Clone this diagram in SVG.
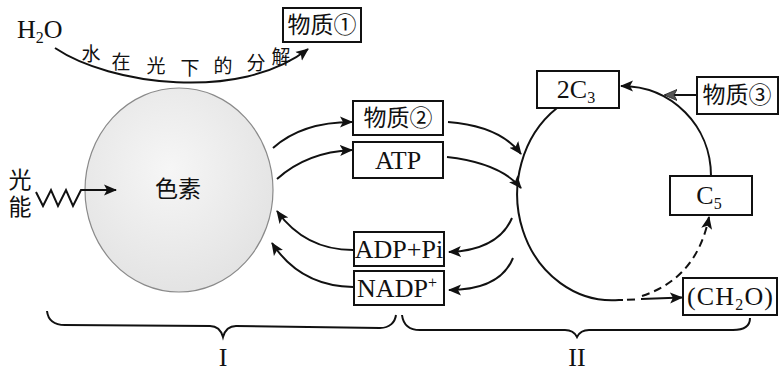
<svg xmlns="http://www.w3.org/2000/svg" width="779" height="374" viewBox="0 0 779 374">
  <style>
    .box { fill: #ffffff; stroke: #111111; stroke-width: 2; }
    .ln { fill: none; stroke: #111111; stroke-width: 2; }
    .lbl { font-family: "Liberation Serif", "Times New Roman", serif; font-size: 26px; fill: #111111; text-anchor: middle; }
    .cn { font-family: "Noto Sans CJK SC", "Noto Sans", sans-serif; font-size: 23px; fill: #111111; text-anchor: middle; }
    .arc { font-family: "Noto Sans CJK SC", "Noto Sans", sans-serif; font-size: 19px; fill: #111111; text-anchor: middle; }
    .sub { font-size: 16px; }
  </style>
  <defs>
    <marker id="head" markerUnits="userSpaceOnUse" markerWidth="14" markerHeight="12" refX="12" refY="6" orient="auto">
      <path d="M0,0.5 L13,6 L0,11.5 L3,6 Z" fill="#111111"/>
    </marker>
    <marker id="headGray" markerUnits="userSpaceOnUse" markerWidth="14" markerHeight="12" refX="12" refY="6" orient="auto">
      <path d="M0,0.5 L13,6 L0,11.5 L3,6 Z" fill="#555555" stroke="#222222" stroke-width="0.8"/>
    </marker>
    <radialGradient id="pigmentFill" cx="0.45" cy="0.4" r="0.65">
      <stop offset="0" stop-color="#f6f6f6"/>
      <stop offset="1" stop-color="#e2e2e2"/>
    </radialGradient>
  </defs>

  <!-- water splitting -->
  <g id="water">
    <text x="17" y="38" class="lbl" style="text-anchor:start">H<tspan class="sub" dy="5">2</tspan><tspan dy="-5">O</tspan></text>
  </g>
  <g id="photolysis-label">
    <text x="91" y="61" class="arc">水</text>
    <text x="121" y="69" class="arc">在</text>
    <text x="156" y="73" class="arc">光</text>
    <text x="190" y="75" class="arc">下</text>
    <text x="223" y="73" class="arc">的</text>
    <text x="256" y="70" class="arc">分</text>
    <text x="281" y="64" class="arc">解</text>
  </g>
  <g id="substance1">
    <rect class="box" x="283" y="8" width="78" height="34"/>
    <text x="322" y="33" class="cn" font-size="21">物质①</text>
  </g>

  <!-- pigment -->
  <g id="pigment">
    <ellipse cx="179" cy="190" rx="94" ry="102" fill="url(#pigmentFill)" stroke="#8a8a8a" stroke-width="1.2"/>
    <text x="178" y="197" class="cn" font-size="21">色素</text>
  </g>
  <!-- light energy label, written top to bottom -->
  <g id="light">
    <text x="20" y="168" class="cn" font-size="19" writing-mode="tb" letter-spacing="4" style="text-anchor:start">光能</text>
  </g>

  <!-- light reaction products / reactants -->
  <g id="substance2">
    <rect class="box" x="353" y="101" width="90" height="34"/>
    <text x="398" y="126" class="cn">物质②</text>
  </g>
  <g id="atp">
    <rect class="box" x="353" y="142" width="90" height="36"/>
    <text x="398" y="169" class="lbl">ATP</text>
  </g>
  <g id="adp">
    <rect class="box" x="354" y="232" width="90" height="34"/>
    <text x="399" y="258" class="lbl" font-size="25">ADP+Pi</text>
  </g>
  <g id="nadp">
    <rect class="box" x="354" y="271" width="90" height="34"/>
    <text x="397" y="297" class="lbl" font-size="25">NADP<tspan class="sub" dy="-9">+</tspan></text>
  </g>

  <!-- Calvin cycle -->
  <g id="c3">
    <rect class="box" x="537" y="71" width="82" height="37"/>
    <text x="576" y="98" class="lbl">2C<tspan class="sub" dy="5">3</tspan></text>
  </g>
  <g id="substance3">
    <rect class="box" x="697" y="77" width="81" height="37"/>
    <text x="737" y="103" class="cn">物质③</text>
  </g>
  <g id="c5">
    <rect class="box" x="670" y="176" width="82" height="39"/>
    <text x="709" y="204" class="lbl">C<tspan class="sub" dy="5">5</tspan></text>
  </g>
  <g id="ch2o">
    <rect class="box" x="683" y="278" width="94" height="37"/>
    <text x="687" y="305" class="lbl" style="text-anchor:start" textLength="86" lengthAdjust="spacing">(CH<tspan class="sub" dy="5">2</tspan><tspan dy="-5">O)</tspan></text>
  </g>

  <!-- stage labels -->
  <g id="stage1">
    <text x="223" y="366" class="lbl" font-size="31">I</text>
  </g>
  <g id="stage2">
    <text x="577" y="366" class="lbl" font-size="31">II</text>
  </g>

  <g id="connectors">
    <!-- water to substance 1 -->
    <path class="ln" d="M55,48 C110,85 240,102 308,49" marker-end="url(#head)"/>
    <!-- light energy zigzag -->
    <path class="ln" d="M36,192 L43,206 L51,190 L58,206 L66,190 L73,206 L81,190 L116,190" marker-end="url(#head)"/>
    <!-- pigment to products -->
    <path class="ln" d="M273,148 Q302,122 352,122" marker-end="url(#head)"/>
    <path class="ln" d="M277,179 Q307,152 352,150" marker-end="url(#head)"/>
    <!-- products to Calvin cycle -->
    <path class="ln" d="M448,122 Q500,126 521,154" marker-end="url(#head)"/>
    <path class="ln" d="M447,157 Q500,163 521,188" marker-end="url(#head)"/>
    <!-- Calvin cycle back to ADP / NADP -->
    <path class="ln" d="M512,218 Q498,250 449,252" marker-end="url(#head)"/>
    <path class="ln" d="M513,258 Q500,290 449,290" marker-end="url(#head)"/>
    <!-- ADP / NADP back to pigment -->
    <path class="ln" d="M353,250 Q305,250 277,211" marker-end="url(#head)"/>
    <path class="ln" d="M353,287 Q300,286 272,243" marker-end="url(#head)"/>
    <!-- 2C3 down the left side to (CH2O) -->
    <path class="ln" d="M557,108 A95,106 0 0 0 619,300 L623,300"/>
    <path class="ln" d="M627,299.8 L635,299.4"/>
    <path class="ln" d="M641,299 L682,297.5" marker-end="url(#head)"/>
    <!-- C5 regeneration (dashed) -->
    <path class="ln" d="M642,296 C675,285 700,262 709,217" stroke-dasharray="8 5" marker-end="url(#head)"/>
    <!-- C5 up to 2C3 -->
    <path class="ln" d="M711,176 C711,126 672,86 621,86" marker-end="url(#head)"/>
    <!-- substance 3 joins -->
    <path class="ln" d="M697,95 L665,95" marker-end="url(#headGray)"/>
    <!-- braces -->
    <path class="ln" d="M47,311 C48,320 53,325 65,325 L210,326 C216,326 221,330 223,337 C225,330 230,326 236,326 L380,328 C390,328 395,322 396,315"/>
    <path class="ln" d="M402,315 C403,323 408,330 420,330 L565,330 C571,330 575,333 577,337 C579,333 583,330 589,330 L733,330 C745,330 750,325 750,318"/>
  </g>
</svg>
